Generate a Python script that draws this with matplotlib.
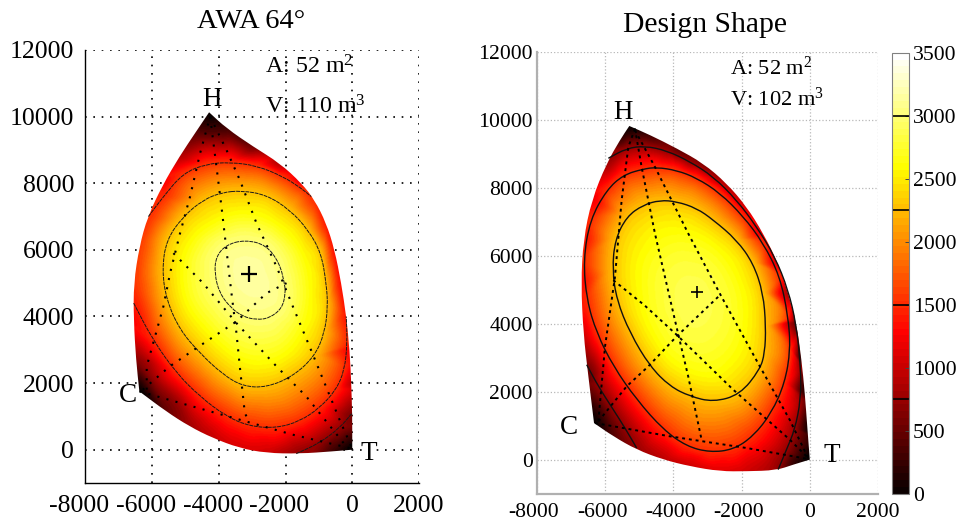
import numpy as np
import matplotlib
matplotlib.use("Agg")
import matplotlib.pyplot as plt
import matplotlib.tri as mtri
from matplotlib.path import Path
from matplotlib.patches import PathPatch
from matplotlib.transforms import ScaledTranslation

plt.rcParams['font.family'] = ['Liberation Serif', 'DejaVu Serif']
plt.rcParams['mathtext.fontset'] = 'custom'
plt.rcParams['mathtext.rm'] = 'Liberation Serif'
plt.rcParams['mathtext.it'] = 'Liberation Serif'

x_ticks = [-8000, -6000, -4000, -2000, 0, 2000]
x_labels = ['-8000', '-6000', '-4000', '-2000', '0', '2000']
y_ticks = [0, 2000, 4000, 6000, 8000, 10000, 12000]
cb_ticks = [0, 500, 1000, 1500, 2000, 2500, 3000, 3500]
contour_levels = [750, 1500, 2250, 3000]

# ---------- Left panel: AWA 64 ----------
l_outline = [(-4290,10130),(-3770,9650),(-2970,9100),(-2170,8600),(-1520,8000),(-1130,7500),(-780,6800),
             (-530,6000),(-330,5000),(-180,4000),(-80,3000),(-30,2000),(0,1000),(0,0),(-580,-50),(-1580,-120),
             (-2580,-100),(-3380,50),(-4180,350),(-4880,700),(-5580,1150),(-6380,1750),(-6480,2700),(-6550,3900),
             (-6550,5000),(-6380,6100),(-6130,7000),(-5680,7950),(-5180,8800),(-4680,9550)]
l_outline_v = [0,300,550,900,1200,1500,1400,1350,1350,1400,1300,1000,600,0,300,750,1050,1100,1000,800,500,0,
               700,1300,1550,1600,1500,1300,900,400]
l_corners = [0, 13, 21]
l_3000 = [(-3220,6300),(-2580,6150),(-2180,5600),(-2030,5000),(-2000,4700),(-2100,4250),(-2480,3950),(-2880,3900),
          (-3280,4000),(-3630,4250),(-3980,4700),(-4130,5300),(-4080,5800),(-3780,6150)]
l_2600 = [(-3300,7100),(-2300,6800),(-1500,5900),(-1250,4700),(-1500,3500),(-2100,2800),(-2800,2600),(-3500,2800),
          (-4300,3500),(-5000,4500),(-5100,5500),(-4800,6300),(-4000,6900)]
l_2250 = [(-3320,7780),(-2570,7650),(-1870,7200),(-1320,6600),(-930,5900),(-780,5000),(-730,4300),(-830,3500),
          (-1130,2800),(-1780,2200),(-2570,1870),(-3270,1900),(-3870,2250),(-4570,2900),(-5170,3600),(-5570,4500),
          (-5700,5400),(-5570,6300),(-5070,7000),(-4470,7500),(-3920,7720)]
l_1500_a = [(-6550,4400),(-5980,3300),(-5270,2300),(-4570,1600),(-3780,1000),(-3070,700),(-2270,650),(-1580,850),
            (-980,1250),(-480,1800),(-230,2400),(-150,3200),(-180,4000)]
l_1500_b = [(-6110,7000),(-5660,7600),(-5070,8300),(-4370,8580),(-3670,8630),(-2870,8530),(-2070,8200),(-1530,7850),(-1230,7600)]
l_750_a = [(-1680,-120),(-980,200),(-380,650),(0,1100)]
l_750_b = [(-6380,2900),(-5880,2000),(-5280,1400),(-4980,900)]
l_peak = (-3000, 5100, 3150)
l_seams = [
    [(-6160,1800),(-6160,2500),(-5660,4300),(-5460,5300),(-5160,6500),(-4860,7600),(-4560,8900),(-4260,10000)],
    [(-4260,10000),(-4070,8500),(-3920,7300),(-3770,6000),(-3620,4700),(-3470,3500),(-3370,2500),(-3220,1100),(-3170,1000)],
    [(-4260,10000),(-3770,9000),(-3370,8100),(-2870,6800),(-2270,5500),(-1780,4300),(-1280,3100),(-830,2000),(-380,900),(-30,100)],
    [(-6280,1800),(-5470,2500),(-4670,3050),(-3470,3850),(-2570,4700),(-1970,5000)],
    [(-5360,5900),(-4470,5000),(-3470,3800),(-2270,2500),(-1380,1600),(-180,100)],
    [(-6380,1750),(-4970,1350),(-3370,900),(-1780,450),(-80,50)],
]

# ---------- Right panel: Design Shape ----------
r_outline = [(-5293,9817),(-4688,9553),(-3906,9161),(-3125,8721),(-2441,8134),(-1855,7448),(-1367,6665),(-928,5784),
             (-635,4904),(-391,4023),(-244,2946),(-146,1967),(-68,891),(0,10),(-488,-137),(-977,-303),(-1855,-333),
             (-2637,-333),(-3516,-186),(-4297,10),(-5078,303),(-5762,695),(-6328,1086),(-6494,2457),(-6641,3729),
             (-6709,5197),(-6641,6470),(-6396,7644),(-5957,8721),(-5566,9406)]
r_outline_v = [0,300,450,600,850,1050,1150,1100,850,500,300,200,100,0,250,750,1050,1150,1050,950,750,400,0,
               500,1100,1300,1350,1200,800,300]
r_corners = [0, 13, 22]
r_2600 = [(-3700,6700),(-2700,6200),(-2050,5200),(-1900,4000),(-2300,2900),(-3100,2500),(-4000,2900),(-4700,3900),
          (-5000,5000),(-4900,6000)]
r_2250 = [(-4395,7635),(-3906,7596),(-3320,7400),(-2832,7058),(-2148,6470),(-1660,5785),(-1367,4905),(-1289,3925),
          (-1320,3142),(-1465,2653),(-2051,1918),(-2832,1703),(-3516,1870),(-4102,2163),(-4688,2751),(-5273,3730),
          (-5664,4708),(-5791,5589),(-5713,6470),(-5371,7155),(-4883,7498)]
r_1500 = [(-4883,8554),(-4492,8602),(-3906,8514),(-3320,8289),(-2637,7849),(-1953,7164),(-1367,6380),(-879,5403),
          (-635,4229),(-566,3250),(-732,2261),(-1123,1380),(-1660,695),(-2246,303),(-2930,225),(-3613,401),(-4297,891),
          (-5078,1772),(-5762,2751),(-6250,3730),(-6543,4708),(-6641,5883),(-6445,7057),(-5957,7938),(-5469,8378)]
r_750_a = [(-5908,8868),(-5371,9161),(-4834,9230),(-4199,9093),(-3516,8770),(-2832,8330),(-2148,7644),(-1562,6861),
           (-1025,5980),(-635,5002),(-400,4000),(-264,2750),(-264,1772),(-440,891),(-684,303),(-928,-284)]
r_750_b = [(-6543,2800),(-6201,2163),(-5762,1478),(-5420,940),(-5078,352)]
r_peak = (-3400, 4700, 2880)
r_seams = [
    [(-6201,1135),(-6006,3328),(-5713,5383),(-5518,7634),(-5322,9200),(-5127,9739)],
    [(-5127,9739),(-4932,8612),(-4541,6655),(-3955,4110),(-3564,2447),(-3174,597)],
    [(-5127,9690),(-4541,8612),(-3564,6655),(-2588,4796),(-1514,2838),(-586,1175),(-49,59)],
    [(-6201,1135),(-5371,2163),(-4736,2751),(-3906,3632),(-2686,4796)],
    [(-5762,5285),(-4853,4551),(-3906,3681),(-2246,2066),(-586,597),(-49,59)],
    [(-6299,1086),(-4102,695),(-1855,352),(-49,29)],
]

W, H = 957, 523
fig = plt.figure(figsize=(W/100, H/100), dpi=100)
def px_axes(x0, x1, ytop, ybot):
    return fig.add_axes([x0/W, 1-ybot/H, (x1-x0)/W, (ybot-ytop)/H])

cmap = plt.get_cmap('hot', 64)

def smooth_path(pts, closed):
    p = np.asarray(pts, float)
    if closed:
        mids = (p + np.roll(p, -1, axis=0))/2
        verts, codes = [mids[-1]], [Path.MOVETO]
        for c, m in zip(p, mids):
            verts += [c, m]; codes += [Path.CURVE3, Path.CURVE3]
    else:
        mids = (p[:-1] + p[1:])/2
        verts, codes = [p[0], mids[0]], [Path.MOVETO, Path.LINETO]
        for c, m in zip(p[1:-1], mids[1:]):
            verts += [c, m]; codes += [Path.CURVE3, Path.CURVE3]
        verts.append(p[-1]); codes.append(Path.LINETO)
    return Path(verts, codes)

def outline_path(outline, corners):
    o = list(outline)
    a, b, c = corners
    arcs = [o[a:b+1], o[b:c+1], o[c:] + [o[a]]]
    verts, codes = [], []
    for i, arc in enumerate(arcs):
        pth = smooth_path(arc, False)
        v = list(pth.vertices); k = list(pth.codes)
        if i:
            k[0] = Path.LINETO
        verts += v; codes += k
    verts.append(verts[0]); codes.append(Path.CLOSEPOLY)
    return Path(verts, codes)

def field(ax, outline, outline_v, corners, rings, peak):
    o = np.asarray(outline, float)
    c = np.array(peak[:2], float)
    guard = c + (o - c)*1.07
    xs = [o[:,0], guard[:,0], [peak[0]]]
    ys = [o[:,1], guard[:,1], [peak[1]]]
    zs = [outline_v, outline_v, [peak[2]]]
    for pts, lev in rings:
        p = np.asarray(pts, float)
        xs.append(p[:,0]); ys.append(p[:,1]); zs.append(np.full(len(p), lev))
    xs, ys, zs = map(np.concatenate, (xs, ys, zs))
    tri = mtri.Triangulation(xs, ys)
    interp = mtri.CubicTriInterpolator(tri, zs, kind='geom')
    gx, gy = np.meshgrid(np.linspace(-7500, 500, 420), np.linspace(-800, 10800, 600))
    gz = np.ma.clip(interp(gx, gy), 0, 3500)
    im = ax.imshow(gz, extent=(-7500, 500, -800, 10800), origin='lower', cmap=cmap, vmin=0, vmax=3500,
                   aspect='auto', interpolation='bilinear', zorder=1)
    im.set_clip_path(outline_path(outline, corners), transform=ax.transData)
    return im

def setup(ax, gridcolor, gridls, spinecolor, spinelw, gridlw, fs, padx, pady, shift_px):
    ax.set_xlim(-8000, 2000); ax.set_ylim(-1000, 12000)
    ax.set_xticks(x_ticks); ax.set_xticklabels(x_labels, fontsize=fs)
    ax.set_yticks(y_ticks); ax.set_yticklabels([str(v) for v in y_ticks], fontsize=fs)
    ax.tick_params(length=0, pad=padx, axis='x'); ax.tick_params(length=0, pad=pady, axis='y')
    ax.grid(True, color=gridcolor, linestyle=gridls, linewidth=gridlw, zorder=0)
    ax.set_axisbelow(True)
    ax.spines['top'].set_visible(False); ax.spines['right'].set_visible(False)
    for s in ('left', 'bottom'):
        ax.spines[s].set_color(spinecolor); ax.spines[s].set_linewidth(spinelw)
    off = ScaledTranslation(shift_px/100, 0, fig.dpi_scale_trans)
    for lab, t in zip(ax.get_xticklabels(), x_ticks):
        if t < 0:
            lab.set_transform(lab.get_transform() + off)

def line(ax, pts, closed=False, **kw):
    ax.add_patch(PathPatch(smooth_path(pts, closed), fill=False, zorder=3, **kw))

# ---- left ----
ax1 = px_axes(85.3, 419, 50, 483)
field(ax1, l_outline, l_outline_v, l_corners,
      [(l_3000, 3000), (l_2600, 2600), (l_2250, 2250), (l_1500_a[1:-1], 1500), (l_1500_b[1:-1], 1500),
       (l_750_a[1:-1], 750), (l_750_b[1:-1], 750)], l_peak)
setup(ax1, 'black', (0, (1, 4)), 'black', 1.0, 1.2, 18.5, 9, 8, -6)
kw1 = dict(edgecolor='#1a1a1a', linewidth=0.7, linestyle=(0, (4, 0.8)))
line(ax1, l_3000, True, **kw1); line(ax1, l_2250, True, **kw1)
line(ax1, l_1500_a, **kw1); line(ax1, l_1500_b, **kw1); line(ax1, l_750_a, **kw1)
for s in l_seams:
    p = np.array(s); ax1.plot(p[:,0], p[:,1], color='black', lw=1.5, ls=(0, (1, 3.5)), zorder=4)
ax1.plot([-3090], [5270], marker='+', ms=11, mew=1.6, color='black', zorder=5)
ax1.text(-4200, 10500, 'H', fontsize=19.5, ha='center', va='center')
ax1.text(-6720, 1620, 'C', fontsize=19.5, ha='center', va='center')
ax1.text(490, -100, 'T', fontsize=19.5, ha='center', va='center')
ax1.text(-2623, 11500, 'A: 52 m$^{2}$', fontsize=17.3, ha='left', va='center')
ax1.text(-2623, 10300, 'V: 110 m$^{3}$', fontsize=17.3, ha='left', va='center')
fig.text(251/W, 1-22/H, 'AWA 64°', fontsize=20.5, ha='center', va='center')

# ---- right ----
ax2 = px_axes(537, 878, 51.7, 494)
im2 = field(ax2, r_outline, r_outline_v, r_corners,
            [(r_2600, 2600), (r_2250, 2250), (r_1500, 1500), (r_750_a[1:5], 750), (r_750_a[11:-1], 750),
             (r_750_b[1:-1], 750)], r_peak)
setup(ax2, '#b8b8b8', ':', '#b0b0b0', 1.6, 0.9, 15.6, 6.5, 3, -3)
kw2 = dict(edgecolor='#111111', linewidth=1.0)
line(ax2, r_2250, True, **kw2); line(ax2, r_1500, True, **kw2)
line(ax2, r_750_a, **kw2); line(ax2, r_750_b, **kw2)
for s in r_seams:
    p = np.array(s); ax2.plot(p[:,0], p[:,1], color='black', lw=1.4, ls=(0, (1.5, 2)), zorder=4)
ax2.plot([-3320], [4933], marker='+', ms=9, mew=1.2, color='black', zorder=5)
ax2.text(-5488, 10200, 'H', fontsize=19.5, ha='center', va='center')
ax2.text(-7051, 959, 'C', fontsize=19.5, ha='center', va='center')
ax2.text(635, 127, 'T', fontsize=19.5, ha='center', va='center')
ax2.text(-2344, 11510, 'A: 52 m$^{2}$', fontsize=16.1, ha='left', va='center')
ax2.text(-2344, 10600, 'V: 102 m$^{3}$', fontsize=16.1, ha='left', va='center')
fig.text(705/W, 1-25/H, 'Design Shape', fontsize=21.3, ha='center', va='center')

# ---- colorbar ----
cax = px_axes(892, 909, 52.7, 494)
cb = fig.colorbar(im2, cax=cax, ticks=cb_ticks)
cb.ax.tick_params(length=3, width=0.7, color='#444444', direction='in', labelsize=15.6, pad=3)
cb.outline.set_edgecolor('#808080'); cb.outline.set_linewidth(0.8)
for lev in contour_levels:
    cax.axhline(lev, color='black', lw=1.2)

fig.savefig('out.png', dpi=100)
